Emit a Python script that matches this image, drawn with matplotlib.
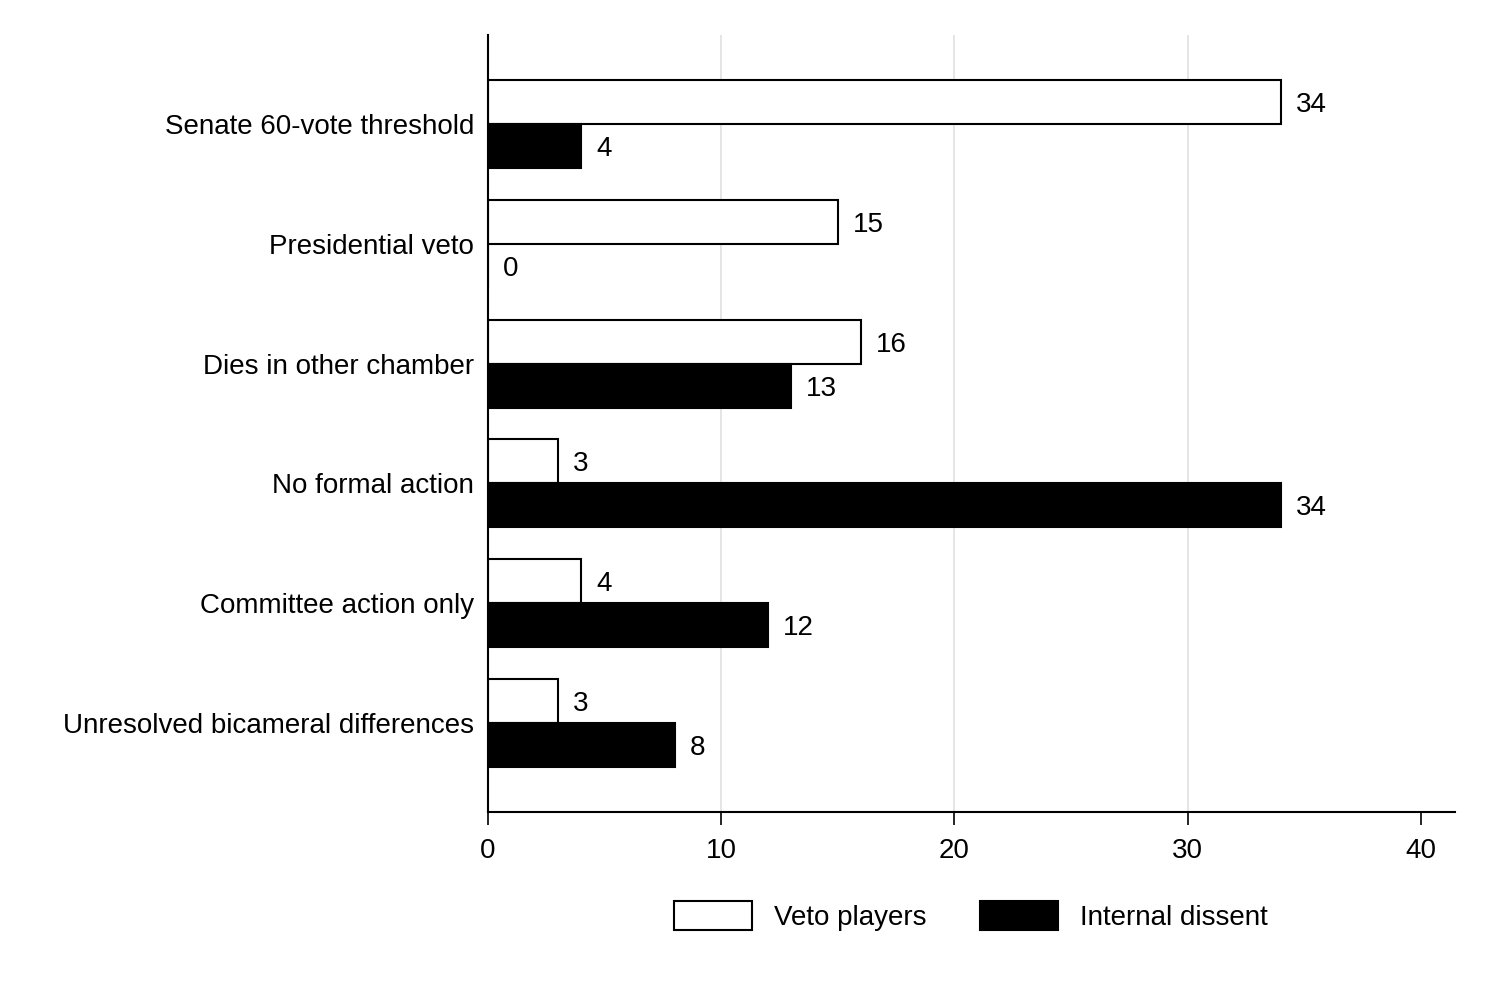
import matplotlib.pyplot as plt
from matplotlib.patches import Patch
import numpy as np

plt.rcParams['font.family'] = ['Liberation Sans', 'DejaVu Sans']

# --- DATA ---
categories = ["Senate 60-vote threshold", "Presidential veto", "Dies in other chamber",
              "No formal action", "Committee action only", "Unresolved bicameral differences"]
veto_players = [34, 15, 16, 3, 4, 3]
internal_dissent = [4, 0, 13, 34, 12, 8]
xticks = [0, 10, 20, 30, 40]

fig = plt.figure(figsize=(14.91, 9.94), dpi=100)
ax = fig.add_axes([488 / 1491, 1 - 812 / 994, (1455 - 488) / 1491, (812 - 35) / 994])

y = np.arange(len(categories))
h = 0.367
fs = 20

ax.barh(y - h / 2, veto_players, height=h, color='white', edgecolor='black', lw=1.5, zorder=3)
ax.barh(y + h / 2, internal_dissent, height=h, color='black', edgecolor='black', lw=1.5, zorder=3)

# value labels, nudged a few pixels down to sit like the original
dy = 0.025
for yi, v in zip(y, veto_players):
    ax.text(v + 0.65, yi - h / 2 + dy, str(v), va='center', ha='left', fontsize=fs)
for yi, v in zip(y, internal_dissent):
    ax.text(v + 0.65, yi + h / 2 + dy, str(v), va='center', ha='left', fontsize=fs)

ax.set_xlim(0, 41.46)
ax.set_ylim(5.74, -0.74)
ax.set_yticks(y)
ax.set_yticklabels(categories, fontsize=fs)
ax.tick_params(axis='y', length=0, pad=10)
ax.set_xticks(xticks)
ax.set_xticklabels([str(t) for t in xticks], fontsize=fs)
ax.tick_params(axis='x', length=9, width=1.2, pad=10)

for t in xticks[1:-1]:
    ax.axvline(t, color='#e0e0e0', lw=1.2, zorder=0)

ax.spines['top'].set_visible(False)
ax.spines['right'].set_visible(False)
ax.spines['left'].set_linewidth(1.5)
ax.spines['left'].set_zorder(4)
ax.spines['bottom'].set_linewidth(1.5)

handles = [Patch(facecolor='white', edgecolor='black', lw=1.5, label='Veto players'),
           Patch(facecolor='black', edgecolor='black', lw=1.5, label='Internal dissent')]
fig.legend(handles=handles, loc='center', bbox_to_anchor=(971 / 1491, 1 - 916 / 994), ncol=2,
           frameon=False, fontsize=fs, handlelength=2.8, handleheight=1.2,
           columnspacing=1.95, handletextpad=0.8)

fig.savefig('out.png', dpi=100, facecolor='white')
